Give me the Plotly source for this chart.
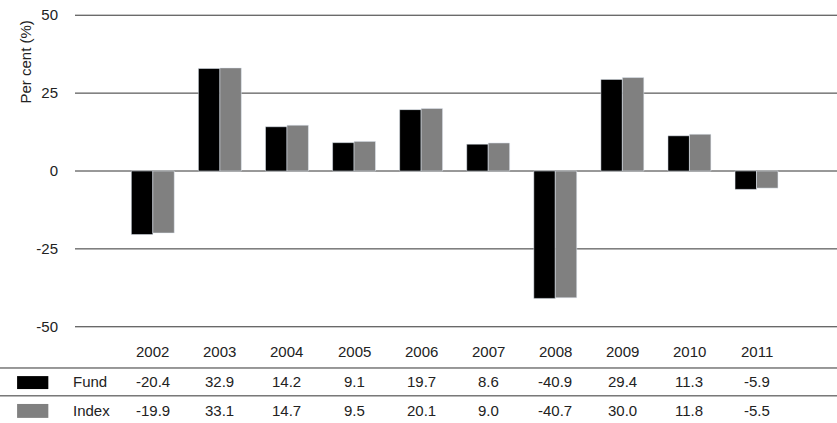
import plotly.graph_objects as go

years = ["2002", "2003", "2004", "2005", "2006", "2007", "2008", "2009", "2010", "2011"]
fund = [-20.4, 32.9, 14.2, 9.1, 19.7, 8.6, -40.9, 29.4, 11.3, -5.9]
index = [-19.9, 33.1, 14.7, 9.5, 20.1, 9.0, -40.7, 30.0, 11.8, -5.5]
yticks = [50, 25, 0, -25, -50]

xs = list(range(len(years)))
font = dict(family="Liberation Sans, Arial, sans-serif", size=15, color="#222")

fig = go.Figure()
fig.add_trace(go.Bar(x=xs, y=fund, name="Fund", marker_color="#000000", width=0.32, offset=-0.32))
fig.add_trace(go.Bar(x=xs, y=index, name="Index", marker_color="#808080", width=0.32, offset=0))

shapes = []
for t in yticks:
    shapes.append(dict(type="line", xref="paper", yref="y", x0=0, x1=1, y0=t, y1=t,
                       line=dict(color="#333", width=1), layer="below"))
for yp in [-0.108, -0.194]:
    shapes.append(dict(type="line", xref="paper", yref="paper", x0=-0.1, x1=1, y0=yp, y1=yp,
                       line=dict(color="#333", width=1)))
shapes.append(dict(type="rect", xref="paper", yref="paper", x0=-0.076, x1=-0.035, y0=-0.173, y1=-0.133,
                   fillcolor="#000000", line_width=0))
shapes.append(dict(type="rect", xref="paper", yref="paper", x0=-0.076, x1=-0.035, y0=-0.262, y1=-0.219,
                   fillcolor="#808080", line_width=0))

ann = []
for i, y in enumerate(years):
    ann.append(dict(x=i, y=-0.09, xref="x", yref="paper", text=y, showarrow=False, font=font))
    ann.append(dict(x=i, y=-0.182, xref="x", yref="paper", text=f"{fund[i]:.1f}", showarrow=False, font=font))
    ann.append(dict(x=i, y=-0.273, xref="x", yref="paper", text=f"{index[i]:.1f}", showarrow=False, font=font))
ann.append(dict(x=0.0, y=-0.182, xref="paper", yref="paper", text="Fund", showarrow=False,
                xanchor="left", xshift=-4, font=font))
ann.append(dict(x=0.0, y=-0.273, xref="paper", yref="paper", text="Index", showarrow=False,
                xanchor="left", xshift=-4, font=font))
ann.append(dict(x=-0.079, y=0.97, xref="paper", yref="paper", text="Per cent (%)", textangle=-90,
                showarrow=False, font=font))

fig.update_layout(
    width=837, height=423,
    margin=dict(l=75, r=0, t=9, b=90, autoexpand=False),
    plot_bgcolor="white", paper_bgcolor="white",
    showlegend=False, barmode="overlay",
    font=font,
    shapes=shapes, annotations=ann,
    xaxis=dict(range=[-1.16, 10.2], showticklabels=False, showgrid=False, zeroline=False,
               automargin=False),
    yaxis=dict(range=[-52, 52], tickvals=yticks, ticktext=[str(t) for t in yticks],
               showgrid=False, zeroline=False, ticks="", ticklabelstandoff=16, automargin=False),
)
fig.write_html("out.html", config={"displayModeBar": False},
               post_script="document.body.style.margin='0';")
